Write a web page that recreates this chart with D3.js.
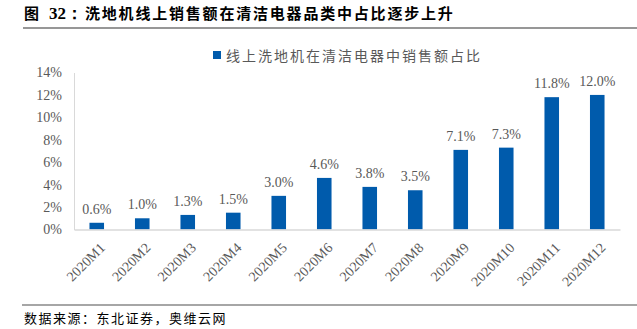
<!DOCTYPE html>
<html>
<head>
<meta charset="utf-8">
<script src="https://cdn.jsdelivr.net/npm/d3@7/dist/d3.min.js"></script>
<style>
  body { margin: 0; background: #fff; }
  svg { display: block; }
</style>
</head>
<body>
<svg id="chart" width="637" height="329"></svg>
<script>
// Monthly share of online floor-washer sales within cleaning appliances (%)
const months = ["2020M1","2020M2","2020M3","2020M4","2020M5","2020M6",
                "2020M7","2020M8","2020M9","2020M10","2020M11","2020M12"];
const shares = [0.6, 1.0, 1.3, 1.5, 3.0, 4.6, 3.8, 3.5, 7.1, 7.3, 11.8, 12.0];
const yTicks = [0, 2, 4, 6, 8, 10, 12, 14];

const titleLabel = "图";
const titleNumber = "32：";
const titleText = "洗地机线上销售额在清洁电器品类中占比逐步上升";
const legendText = "线上洗地机在清洁电器中销售额占比";
const sourceText = "数据来源：东北证券，奥维云网";

const svg = d3.select("#chart");
const serif = "'Liberation Serif', 'Times New Roman', serif";
const cjk = "'Noto Sans CJK SC', sans-serif";
const grey = "#595959";
const blue = "#005BAC";

const plot = { left: 74, right: 620, top: 72.5, bottom: 229.5 };

const x = d3.scaleBand().domain(months).range([plot.left, plot.right]).paddingInner(0.68).paddingOuter(0.34);
const y = d3.scaleLinear().domain([0, 14]).range([plot.bottom, plot.top]);

// Title and rule beneath it
const title = svg.append("text")
  .attr("y", 19)
  .attr("font-family", cjk).attr("font-weight", "bold").attr("font-size", 15)
  .attr("fill", "#000");
title.append("tspan").attr("x", 24).text(titleLabel);
title.append("tspan").attr("x", 49).attr("font-family", serif).attr("font-size", 17).text(titleNumber);
title.append("tspan").attr("x", 85).attr("letter-spacing", 1.8).text(titleText);
svg.append("line")
  .attr("x1", 23).attr("x2", 637).attr("y1", 28).attr("y2", 28)
  .attr("stroke", "#303030").attr("stroke-width", 1.2);

// Legend
svg.append("rect")
  .attr("x", 213).attr("y", 51).attr("width", 8).attr("height", 8)
  .attr("fill", blue);
svg.append("text")
  .attr("x", 226).attr("y", 60.5)
  .attr("font-family", cjk).attr("font-size", 14).attr("letter-spacing", 2)
  .attr("fill", grey)
  .text(legendText);

// Y axis
const yAxis = svg.append("g")
  .attr("transform", `translate(${plot.left},0)`)
  .call(d3.axisLeft(y).tickValues(yTicks).tickSize(0).tickPadding(12).tickFormat(d => d + "%"));
yAxis.select(".domain").attr("stroke", "#d9d9d9");
yAxis.selectAll("text")
  .attr("font-family", serif).attr("font-size", 14).attr("fill", grey);

// Bars
svg.append("g").selectAll("rect")
  .data(shares)
  .join("rect")
  .attr("x", (d, i) => x(months[i]))
  .attr("y", d => y(d))
  .attr("width", x.bandwidth())
  .attr("height", d => y(0) - y(d))
  .attr("fill", blue);

// Value labels
svg.append("g").selectAll("text")
  .data(shares)
  .join("text")
  .attr("x", (d, i) => x(months[i]) + x.bandwidth() / 2)
  .attr("y", d => y(d) - 9)
  .attr("text-anchor", "middle")
  .attr("font-family", serif).attr("font-size", 14).attr("fill", grey)
  .text(d => d.toFixed(1) + "%");

// X axis
const xAxis = svg.append("g")
  .attr("transform", `translate(0,${plot.bottom})`)
  .call(d3.axisBottom(x).tickSize(0).tickSizeOuter(0));
xAxis.select(".domain").attr("stroke", "#d9d9d9").attr("stroke-width", 1.5);
xAxis.selectAll("text")
  .attr("font-family", serif).attr("font-size", 14).attr("fill", grey)
  .attr("text-anchor", "end")
  .attr("dy", 0)
  .attr("transform", "translate(7,17) rotate(-45)");

// Source line and note
svg.append("line")
  .attr("x1", 22).attr("x2", 637).attr("y1", 305).attr("y2", 305)
  .attr("stroke", "#888888").attr("stroke-width", 1.6);
svg.append("text")
  .attr("x", 24).attr("y", 323)
  .attr("font-family", cjk).attr("font-size", 13).attr("letter-spacing", 1.5).attr("fill", "#000")
  .text(sourceText);
</script>
</body>
</html>
